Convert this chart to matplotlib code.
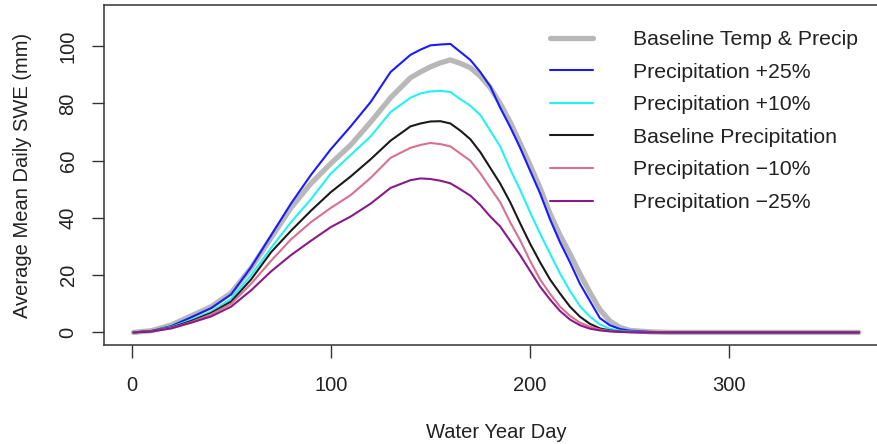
import matplotlib
matplotlib.use('Agg')
import matplotlib.pyplot as plt
from matplotlib import rcParams

rcParams['font.family'] = 'sans-serif'
rcParams['font.sans-serif'] = ['Liberation Sans', 'DejaVu Sans']

days = [1, 10, 20, 30, 40, 50, 60, 70, 80, 90, 100, 110, 120, 130, 140, 145, 150, 155,
        160, 165, 170, 175, 180, 185, 190, 195, 200, 205, 210, 215, 220, 225, 230, 235,
        240, 245, 250, 260, 270, 365]

swe_base_tp = [0, 0.6, 2.6, 5.8, 9, 13.8, 22.5, 33, 43.5, 52, 59, 65.5, 73.5, 82, 89, 91, 92.8, 94.2,
               95.2, 94, 92.5, 89.5, 85.5, 80, 73.5, 66.1, 58.5, 50.5, 41.5, 34, 27.5, 20.5, 14, 8,
               4, 1.8, 0.7, 0.2, 0, 0]
swe_p25 = [0, 0.5, 2.2, 5.3, 8.5, 13.3, 22.8, 33.9, 45, 55, 64, 72, 80.5, 91, 97, 98.8, 100.3, 100.6,
           100.8, 98, 95.2, 91, 86, 78.5, 71.8, 64.5, 56.5, 48.6, 39.5, 31.5, 24.5, 17, 11, 5,
           2.5, 1.2, 0.6, 0.2, 0, 0]
swe_p10 = [0, 0.5, 1.9, 4.4, 7.3, 11.8, 20, 29.5, 38.5, 46.5, 55.5, 62, 68.5, 77, 82, 83.5, 84.2, 84.4,
           84, 81.5, 79.2, 76, 70.5, 65, 57, 49.8, 42, 34.5, 27.5, 20.6, 14.5, 9.2, 5.5, 2.8,
           1.3, 0.6, 0.3, 0.1, 0, 0]
swe_base = [0, 0.5, 1.7, 4.0, 6.8, 10.8, 18.5, 28, 35.5, 42.5, 49, 54.5, 60.5, 67, 72, 73, 73.7, 73.8,
            73, 70.5, 67.5, 63, 57.5, 52, 45.5, 38.1, 31, 24.5, 18.5, 13.6, 9, 5.5, 3, 1.4,
            0.7, 0.3, 0.15, 0, 0, 0]
swe_m10 = [0, 0.4, 1.5, 3.6, 6.3, 10, 17, 25, 32.5, 38.5, 43.5, 48, 54, 61, 64.5, 65.5, 66.2, 65.8,
           65, 62.5, 60, 55.6, 50.5, 45.5, 38.5, 32.2, 25, 18.5, 13.5, 9, 5.8, 3.4, 2, 1,
           0.5, 0.2, 0.1, 0, 0, 0]
swe_m25 = [0, 0.3, 1.4, 3.4, 5.6, 9, 14.7, 21.3, 27, 32, 36.8, 40.5, 45, 50.5, 53.2, 53.8, 53.6, 53,
           52.1, 50, 47.8, 44.5, 40.5, 37, 32, 27, 21.5, 16, 11.5, 7.5, 4.5, 2.5, 1.3, 0.7,
           0.35, 0.15, 0.05, 0, 0, 0]

labels = ['Baseline Temp & Precip', 'Precipitation +25%', 'Precipitation +10%',
          'Baseline Precipitation', 'Precipitation \u221210%', 'Precipitation \u221225%']
series = [swe_base_tp, swe_p25, swe_p10, swe_base, swe_m10, swe_m25]
colors = ['#b8b8b8', '#1a1aff', '#22f2f2', '#1a1a1a', '#d8708e', '#8a1a8a']
widths = [3.8, 1.5, 1.5, 1.5, 1.5, 1.5]

W, H = 878, 444
fig = plt.figure(figsize=(W / 100, H / 100), dpi=100)
# axes box runs past the right edge, as in the original
ax = fig.add_axes([104 / W, (H - 345) / H, (900 - 104) / W, 340 / H])

for vals, c, lw, lab in zip(series, colors, widths, labels):
    ax.plot(days, vals, color=c, lw=lw, label=lab, solid_capstyle='round')

ax.set_xlim(-13.8, 385.6)
ax.set_ylim(-4.4, 114.4)
ax.set_xticks([0, 100, 200, 300])
ax.set_yticks([0, 20, 40, 60, 80, 100])

for s in ax.spines.values():
    s.set_color('#333333')
    s.set_linewidth(1.1)
ax.spines['right'].set_visible(False)

ax.tick_params(axis='both', length=9, width=1.0, color='#333333', labelsize=14.5,
               labelcolor='#222222')
ax.tick_params(axis='x', pad=13)
ax.tick_params(axis='y', pad=10)
for t in ax.get_yticklabels():
    t.set_rotation(90)
    t.set_va('center')

ax.set_xlabel('Water Year Day', fontsize=14.5, color='#222222', va='center')
ax.set_ylabel('Average Mean Daily SWE (mm)', fontsize=14.5, color='#222222', va='center')
ax.xaxis.set_label_coords((496 - 104) / 796, (345 - 432) / 340)
ax.yaxis.set_label_coords((23 - 104) / 796, 0.5)

leg = fig.legend(loc='upper left', bbox_to_anchor=(550 / W, 1 - 30 / H), frameon=False,
                 fontsize=15.3, handlelength=2.02, handletextpad=1.88, labelspacing=0.64,
                 borderpad=0, borderaxespad=0)
for t in leg.get_texts():
    t.set_color('#222222')

fig.savefig('out.png', dpi=100)
